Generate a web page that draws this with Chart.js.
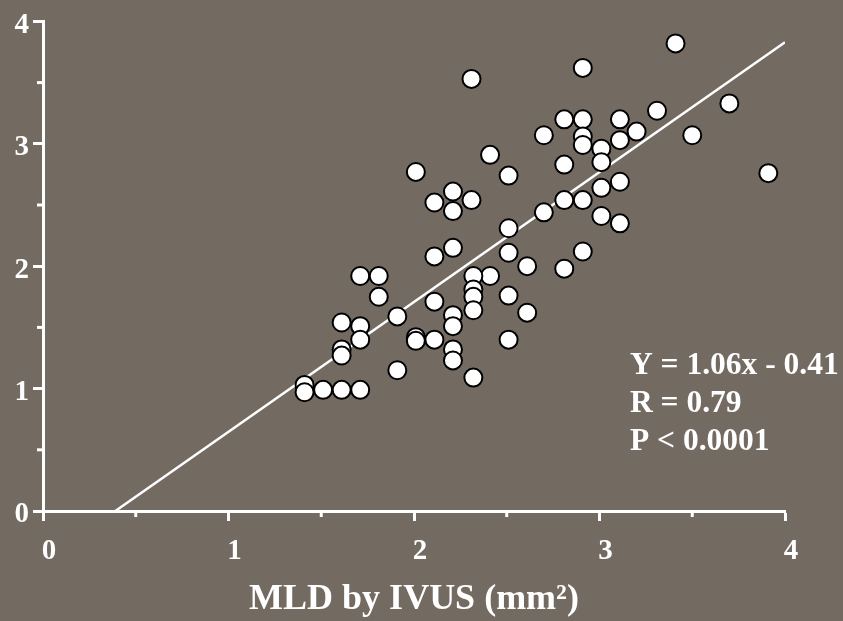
<!DOCTYPE html>
<html>
<head>
<meta charset="utf-8">
<script src="https://cdn.jsdelivr.net/npm/chart.js@4/dist/chart.umd.min.js"></script>
<style>
  html, body { margin: 0; padding: 0; background: #736a62; }
  #wrap { width: 843px; height: 621px; }
</style>
</head>
<body>
<div id="wrap"><canvas id="chart" width="843" height="621"></canvas></div>
<script>
// MLD by IVUS (x) vs. second measure (y)
const mldX = [
  3.41, 2.91, 3.70, 3.31, 2.81, 2.91, 3.11, 2.70, 2.91, 2.91,
  3.01, 3.11, 3.20, 3.50, 3.01, 2.81, 3.91, 3.11, 3.01, 2.81,
  2.91, 3.01, 3.11, 2.70, 2.51, 2.91, 2.51, 2.61, 2.81, 2.41,
  2.51, 2.41, 2.51, 2.01, 2.21, 2.11, 2.31, 2.21, 2.21, 2.11,
  1.71, 1.81, 2.32, 1.81, 2.11, 2.32, 2.32, 2.32, 2.61, 1.91,
  2.21, 2.21, 1.61, 1.71, 1.71, 2.01, 2.01, 2.11, 2.21, 2.21,
  2.51, 1.61, 1.61, 1.91, 2.32, 1.41, 1.41, 1.51, 1.61, 1.71,
  2.31
];
const mldY = [
  3.82, 3.62, 3.33, 3.27, 3.20, 3.20, 3.20, 3.07, 3.06, 2.99,
  2.96, 3.03, 3.10, 3.07, 2.85, 2.83, 2.76, 2.69, 2.64, 2.54,
  2.54, 2.41, 2.35, 2.44, 2.31, 2.12, 2.11, 2.00, 1.98, 1.92,
  1.76, 2.91, 2.74, 2.77, 2.61, 2.52, 2.54, 2.45, 2.15, 2.08,
  1.92, 1.92, 1.92, 1.75, 1.71, 1.81, 1.75, 1.64, 1.62, 1.59,
  1.60, 1.51, 1.54, 1.51, 1.40, 1.42, 1.39, 1.40, 1.32, 1.23,
  1.40, 1.32, 1.27, 1.15, 1.09, 1.03, 0.97, 0.99, 0.99, 0.99,
  3.53
];

// regression line end points
const fitX = [0.39, 4.0];
const fitY = [0.0, 3.83];

const axisTicks = [0, 1, 2, 3, 4];
const statsText = ["Y = 1.06x - 0.41", "R = 0.79", "P < 0.0001"];
const xTitle = "MLD by IVUS (mm\u00B2)";

const serif = "'Liberation Serif', 'Times New Roman', serif";

function toPoints(xs, ys) {
  return xs.map(function (x, i) { return { x: x, y: ys[i] }; });
}

// fond + petites graduations + texte statistique
const decorPlugin = {
  id: "decor",
  beforeDraw(chart) {
    const ctx = chart.ctx;
    ctx.save();
    ctx.fillStyle = "#736a62";
    ctx.fillRect(0, 0, chart.width, chart.height);
    ctx.restore();
  },
  afterDraw(chart) {
    const ctx = chart.ctx;
    const xs = chart.scales.x;
    const ys = chart.scales.y;
    const area = chart.chartArea;
    ctx.save();
    ctx.strokeStyle = "#ffffff";
    ctx.lineWidth = 3;
    for (let v = 0.5; v < 4; v += 1) {
      const px = xs.getPixelForValue(v);
      ctx.beginPath();
      ctx.moveTo(px, area.bottom);
      ctx.lineTo(px, area.bottom + 6);
      ctx.stroke();
      const py = ys.getPixelForValue(v);
      ctx.beginPath();
      ctx.moveTo(area.left, py);
      ctx.lineTo(area.left - 6, py);
      ctx.stroke();
    }
    ctx.fillStyle = "#ffffff";
    ctx.font = "bold 31.5px " + serif;
    ctx.textBaseline = "middle";
    ctx.textAlign = "left";
    statsText.forEach(function (t, i) {
      ctx.fillText(t, 630, 366 + i * 38);
    });
    ctx.restore();
  }
};

const ctx = document.getElementById("chart").getContext("2d");
new Chart(ctx, {
  type: "scatter",
  data: {
    datasets: [
      {
        label: "points",
        data: toPoints(mldX, mldY),
        pointRadius: 9,
        pointHoverRadius: 9,
        pointBackgroundColor: "#ffffff",
        pointBorderColor: "#000000",
        pointBorderWidth: 2,
        order: 1
      },
      {
        label: "fit",
        type: "line",
        data: toPoints(fitX, fitY),
        borderColor: "#ffffff",
        borderWidth: 2.5,
        pointRadius: 0,
        fill: false,
        order: 2
      }
    ]
  },
  options: {
    responsive: false,
    animation: false,
    events: [],
    layout: { padding: { top: 14, right: 58, bottom: 0, left: 0 } },
    plugins: {
      legend: { display: false },
      tooltip: { enabled: false }
    },
    scales: {
      x: {
        type: "linear",
        min: 0,
        max: 4,
        afterFit(scale) { scale.height = 110; },
        afterBuildTicks(scale) {
          scale.ticks = axisTicks.map(function (v) { return { value: v }; });
        },
        border: { display: true, color: "#ffffff", width: 3 },
        grid: {
          drawOnChartArea: false,
          drawTicks: true,
          tickLength: 10,
          tickWidth: 3,
          tickColor: "#ffffff"
        },
        ticks: {
          color: "#ffffff",
          font: { family: serif, size: 29, weight: "bold" },
          padding: 13,
          labelOffset: 6,
          maxRotation: 0
        },
        title: {
          display: true,
          text: xTitle,
          color: "#ffffff",
          font: { family: serif, size: 36, weight: "bold" },
          padding: { top: 0, bottom: 0 }
        }
      },
      y: {
        type: "linear",
        min: 0,
        max: 4,
        afterFit(scale) { scale.width = 43; },
        afterBuildTicks(scale) {
          scale.ticks = axisTicks.map(function (v) { return { value: v }; });
        },
        border: { display: true, color: "#ffffff", width: 3 },
        grid: {
          drawOnChartArea: false,
          drawTicks: true,
          tickLength: 10,
          tickWidth: 3,
          tickColor: "#ffffff"
        },
        ticks: {
          color: "#ffffff",
          font: { family: serif, size: 29, weight: "bold" },
          padding: 4,
          labelOffset: 4
        }
      }
    }
  },
  plugins: [decorPlugin]
});
</script>
</body>
</html>
